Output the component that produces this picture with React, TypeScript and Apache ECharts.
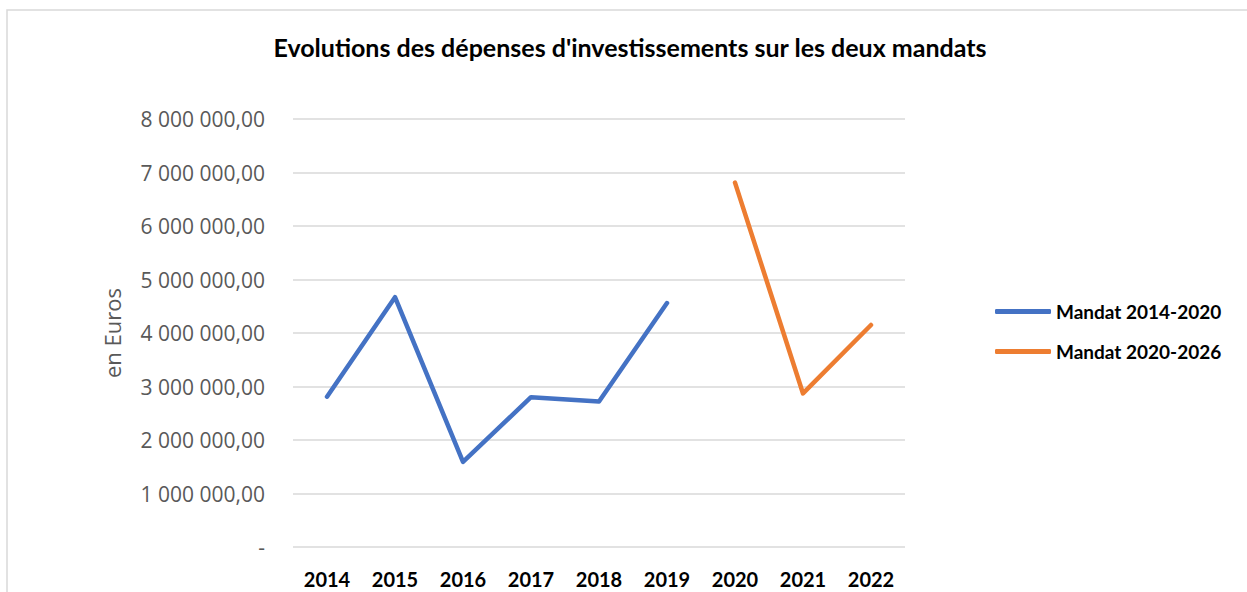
import React, { useEffect, useRef } from "react";
import * as echarts from "echarts";

const years = ["2014", "2015", "2016", "2017", "2018", "2019", "2020", "2021", "2022"];
const mandat2014 = [2810000, 4670000, 1590000, 2800000, 2720000, 4560000, null, null, null];
const mandat2020 = [null, null, null, null, null, null, 6810000, 2870000, 4150000];
const seriesNames = ["Mandat 2014-2020", "Mandat 2020-2026"];
const titleText = "Evolutions des dépenses d'investissements sur les deux mandats";
const yAxisName = "en Euros";

function fmt(v: number): string {
  if (v === 0) return "-";
  const s = Math.round(v).toString().replace(/\B(?=(\d{3})+(?!\d))/g, " ");
  return s + ",00";
}

export default function App() {
  const ref = useRef<HTMLDivElement>(null);
  useEffect(() => {
    if (!ref.current) return;
    const chart = echarts.init(ref.current, null, { renderer: "svg" });
    const font = "Lato, 'Open Sans', sans-serif";
    const font2 = "Open Sans";
    chart.setOption({
      animation: false,
      backgroundColor: "#ffffff",
      textStyle: { fontFamily: font },
      graphic: [
        {
          type: "rect",
          shape: { x: 7, y: 10, width: 1400, height: 800 },
          style: { fill: "none", stroke: "#d9d9d9", lineWidth: 1.5 },
          silent: true,
        },
        {
          type: "text",
          x: 630,
          y: 47,
          style: {
            text: titleText,
            fontFamily: font,
            fontWeight: "bold",
            fontSize: 25,
            fill: "#000000",
            textAlign: "center",
            textVerticalAlign: "middle",
          },
        },
      ],
      grid: { left: 293, top: 119, width: 612, height: 428, containLabel: false },
      legend: {
        orient: "vertical",
        left: 990,
        top: 296,
        itemWidth: 56,
        itemHeight: 5,
        icon: "roundRect",
        itemGap: 19,
        data: seriesNames,
        textStyle: {
          fontFamily: font,
          fontWeight: "bold",
          fontSize: 19,
          color: "#000000",
          lineHeight: 21,
        },
      },
      xAxis: {
        type: "category",
        data: years,
        boundaryGap: true,
        axisLine: { show: false },
        axisTick: { show: false },
        axisLabel: {
          margin: 22,
          fontFamily: font,
          fontWeight: "bold",
          fontSize: 20,
          color: "#000000",
        },
      },
      yAxis: {
        type: "value",
        min: 0,
        max: 8000000,
        interval: 1000000,
        name: yAxisName,
        nameLocation: "middle",
        nameRotate: 90,
        nameGap: 170,
        nameTextStyle: { fontFamily: font2, fontSize: 22, color: "#595959" },
        axisLine: { show: false },
        axisTick: { show: false },
        splitLine: { lineStyle: { color: "#d9d9d9", width: 1.5 } },
        axisLabel: {
          margin: 28,
          fontFamily: font2,
          fontSize: 21,
          color: "#595959",
          formatter: (v: number) => fmt(v),
        },
      },
      series: [
        {
          name: seriesNames[0],
          type: "line",
          data: mandat2014,
          symbol: "none",
          connectNulls: false,
          lineStyle: { color: "#4472C4", width: 4.5, cap: "round", join: "round" },
          itemStyle: { color: "#4472C4" },
        },
        {
          name: seriesNames[1],
          type: "line",
          data: mandat2020,
          symbol: "none",
          connectNulls: false,
          lineStyle: { color: "#ED7D31", width: 4.5, cap: "round", join: "round" },
          itemStyle: { color: "#ED7D31" },
        },
      ],
    });
    return () => chart.dispose();
  }, []);
  return (
    <div
      ref={ref}
      style={{ position: "fixed", left: 0, top: 0, width: 1247, height: 592, background: "#fff" }}
    />
  );
}
